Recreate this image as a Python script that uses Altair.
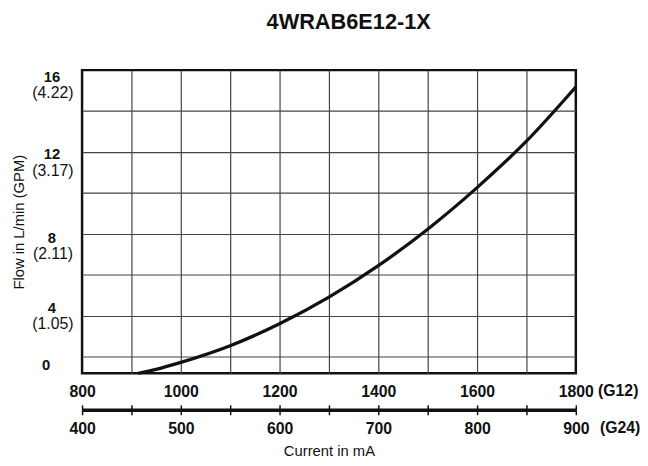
import altair as alt
import pandas as pd

# ---- data ----
title_text = "4WRAB6E12-1X"
current_g12 = [914, 950, 1000, 1100, 1200, 1300, 1400, 1500, 1600, 1700, 1800]
flow_lpm = [0.0, 0.48, 1.32, 2.54, 3.61, 4.91, 6.45, 8.23, 10.26, 12.53, 15.18]

x_grid_g12 = [800, 900, 1000, 1100, 1200, 1300, 1400, 1500, 1600, 1700, 1800]
x_label_step_g12 = 200
x_ticks_g24 = [400, 450, 500, 550, 600, 650, 700, 750, 800, 850, 900]
x_label_step_g24 = 100
y_grid = [0, 2, 4, 6, 8, 10, 12, 14, 16]
y_label_values = [0, 4, 8, 12, 16]
y_label_gpm = ["", "(1.05)", "(2.11)", "(3.17)", "(4.22)"]

FONT = "Liberation Sans"
df = pd.DataFrame({"current": current_g12, "flow": flow_lpm})

W, H = 500, 307
yscale = alt.Scale(domain=[0, 2, 16], range=[H, 290.3, 0], nice=False, zero=False)

gpm_expr = " : ".join(
    f"datum.value == {v} ? '{t}'" for v, t in zip(y_label_values, y_label_gpm)
) + " : ''"
lab_vals = " || ".join(f"datum.value == {v}" for v in y_label_values)

bold_offset = {"condition": [
    {"test": "datum.value == 16", "value": 7},
    {"test": "datum.value == 12", "value": 2},
    {"test": "datum.value == 8", "value": 4},
    {"test": "datum.value == 4", "value": -8},
    {"test": "datum.value == 0", "value": -9},
], "value": 0}
bold_padding = {"condition": {"test": "datum.value == 0", "value": 37}, "value": 31}
gpm_offset = {"condition": [
    {"test": "datum.value == 16", "value": 23},
    {"test": "datum.value == 12", "value": 19},
    {"test": "datum.value == 8", "value": 20},
    {"test": "datum.value == 4", "value": 8},
], "value": 0}

grid_color_x = {"condition": {"test": "datum.value == 800 || datum.value == 1800", "value": "transparent"}, "value": "#444"}
grid_color_y = {"condition": {"test": "datum.value == 0 || datum.value == 16", "value": "transparent"}, "value": "#444"}

line = alt.Chart(df).mark_line(color="#111", strokeWidth=3.3, interpolate="monotone").encode(
    x=alt.X("current:Q",
            scale=alt.Scale(domain=[800, 1800], nice=False, zero=False),
            axis=alt.Axis(orient="bottom", values=x_grid_g12, format="d",
                          labelExpr=f"datum.value % {x_label_step_g12} == 0 ? datum.label : ''",
                          grid=True, gridColor=grid_color_x, gridWidth=1.2,
                          ticks=False, tickSize=0, domain=False,
                          labelFont=FONT, labelFontSize=16, labelFontWeight="bold", labelColor="#111",
                          labelPadding=11, labelFlush=False, labelOverlap=False,
                          title="(G12)", titleFont=FONT, titleFontSize=16, titleFontWeight="bold",
                          titleColor="#111", titleX=522, titleY=18, titleAlign="left",
                          titleBaseline="middle", titleAngle=0)),
    y=alt.Y("flow:Q", scale=yscale,
            axis=alt.Axis(orient="left", values=y_grid,
                          labelExpr=f"({lab_vals}) ? datum.label : ''",
                          grid=True, gridColor=grid_color_y, gridWidth=1.2,
                          ticks=False, tickSize=0, domain=False,
                          labelFont=FONT, labelFontSize=15, labelFontWeight="bold", labelColor="#111",
                          labelAlign="center", labelBaseline="middle", labelPadding=bold_padding,
                          labelOffset=bold_offset, labelFlush=False, labelOverlap=False,
                          title="Flow in L/min (GPM)", titleFont=FONT, titleFontSize=15,
                          titleFontWeight="normal", titleColor="#111",
                          titleX=-64, titleY=H / 2, titleAngle=-90, titleAlign="center",
                          titleBaseline="middle")),
)

g24 = alt.Chart(df).transform_calculate(g24="datum.current / 2").mark_line(opacity=0).encode(
    x=alt.X("g24:Q",
            scale=alt.Scale(domain=[400, 900], nice=False, zero=False),
            axis=alt.Axis(orient="bottom", offset=37, values=x_ticks_g24, format="d",
                          labelExpr=f"datum.value % {x_label_step_g24} == 0 ? datum.label : ''",
                          grid=False, domain=True, domainColor="#111", domainWidth=3.5,
                          ticks=True, tickSize=5, tickWidth=1.5, tickColor="#111",
                          labelFont=FONT, labelFontSize=16, labelFontWeight="bold", labelColor="#111",
                          labelPadding=6, labelFlush=False, labelOverlap=False,
                          title="Current in mA", titleFont=FONT, titleFontSize=15,
                          titleFontWeight="normal", titleColor="#111",
                          titleX=W / 2, titleY=41, titleAlign="center", titleBaseline="middle")),
    y=alt.Y("flow:Q", scale=yscale,
            axis=alt.Axis(orient="left", values=y_label_values,
                          labelExpr=gpm_expr,
                          grid=False, ticks=False, tickSize=0, domain=False,
                          labelFont=FONT, labelFontSize=16, labelFontWeight="normal", labelColor="#111",
                          labelAlign="center", labelBaseline="middle", labelPadding=30,
                          labelOffset=gpm_offset, labelFlush=False, labelOverlap=False,
                          title=None)),
)

g24_up = alt.Chart(df).transform_calculate(g24="datum.current / 2").mark_line(opacity=0).encode(
    x=alt.X("g24:Q",
            scale=alt.Scale(domain=[400, 900], nice=False, zero=False),
            axis=alt.Axis(orient="bottom", offset=32, values=x_ticks_g24,
                          labels=False, grid=False, domain=False,
                          ticks=True, tickSize=5, tickWidth=1.5, tickColor="#111",
                          title="(G24)", titleFont=FONT, titleFontSize=16, titleFontWeight="bold",
                          titleColor="#111", titleX=524, titleY=23, titleAlign="left",
                          titleBaseline="middle", titleAngle=0)),
    y=alt.Y("flow:Q", scale=yscale, axis=None),
)

chart = alt.layer(line, g24, g24_up).resolve_scale(
    x="independent", y="independent"
).properties(
    width=W, height=H,
    autosize=alt.AutoSizeParams(type="none"),
    padding={"left": 75, "top": 60, "right": 65, "bottom": 91},
    title=alt.TitleParams(title_text, font=FONT, fontSize=22, fontWeight="bold", color="#111",
                          anchor="middle", dx=20, offset=20, baseline="alphabetic"),
).configure_view(stroke="#111", strokeWidth=2.5)

chart.save("out.html", embed_options={"renderer": "svg", "actions": False})
